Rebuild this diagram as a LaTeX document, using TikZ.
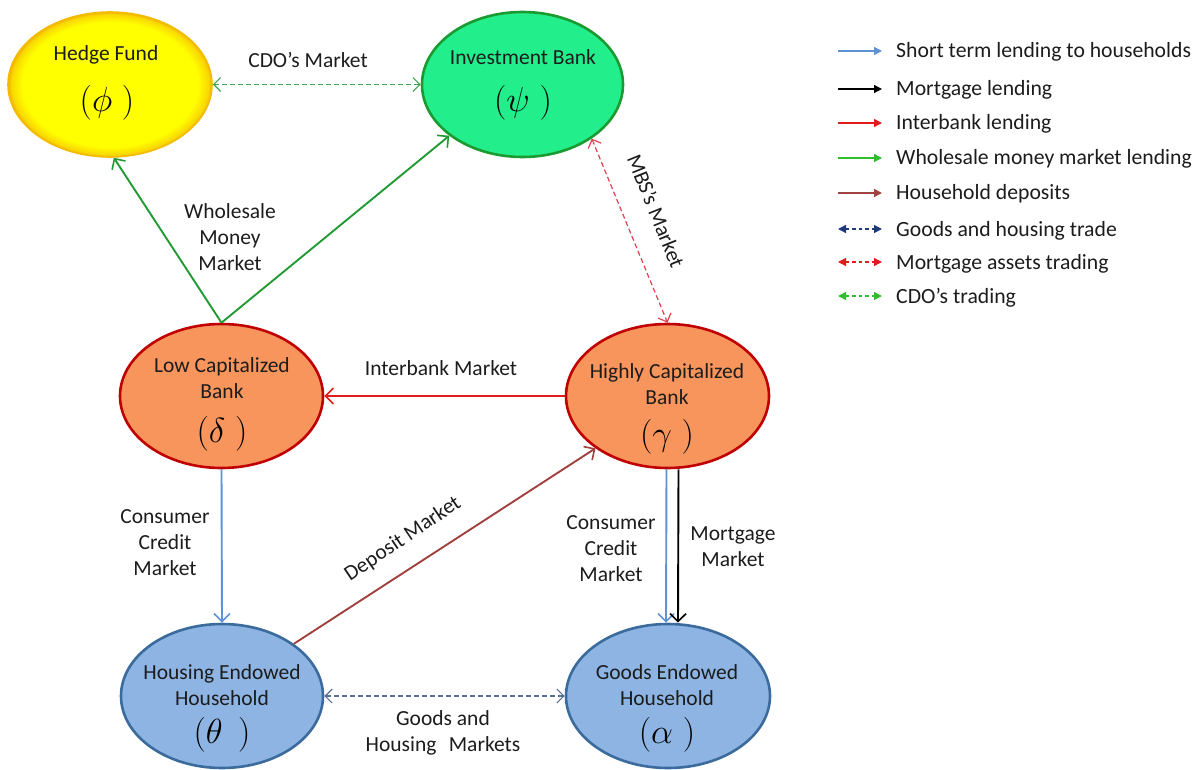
\documentclass[tikz,border=0pt]{standalone}
\usepackage{graphicx}
\usepackage{fontspec}
\setmainfont{Carlito}
\usetikzlibrary{shapes.geometric,arrows.meta}

% palette
\definecolor{txtc}{HTML}{1C1C1C}
\definecolor{hfyellow}{HTML}{FFFF00}
\definecolor{hforange}{HTML}{F2B000}
\definecolor{ibfill}{HTML}{22EE8C}
\definecolor{ibedge}{HTML}{1A9A30}
\definecolor{bankfill}{HTML}{F8955C}
\definecolor{bankedge}{HTML}{C00000}
\definecolor{hhfill}{HTML}{8DB4E2}
\definecolor{hhedge}{HTML}{3B6B9C}
\definecolor{cblue}{HTML}{5E91D6}
\definecolor{cred}{HTML}{E21C1C}
\definecolor{cgreen}{HTML}{229A33}
\definecolor{lgreen}{HTML}{2EBE2E}
\definecolor{cbrown}{HTML}{A0413F}
\definecolor{cnavy}{HTML}{1F3A7A}
\definecolor{cgrey}{HTML}{5A6F96}
\definecolor{mbsred}{HTML}{E0404F}
\definecolor{cdogreen}{HTML}{3FA552}

% soft orange rim for the hedge fund
\pgfdeclareradialshading{hedgeglow}{\pgfpoint{0bp}{0bp}}{%
  color(0bp)=(hfyellow); color(21.5bp)=(hfyellow);
  color(24.2bp)=(hforange!50!hfyellow); color(25bp)=(hforange);
  color(50bp)=(hforange)}

% large agent symbol
\newcommand{\agentsym}[1]{\scalebox{1.4}{$#1$}}

\begin{document}
\begin{tikzpicture}[x=1pt,y=-1pt,
  txt/.style={font=\fontsize{21.5}{26}\selectfont, text=txtc, align=center, inner sep=0pt},
  sym/.style={font=\fontsize{24.88}{25}\selectfont, text=black, inner sep=0pt},
  actor/.style={ellipse, inner sep=0pt, line width=2.6pt},
  flow/.style={line width=1.9pt, -{Straight Barb[length=8pt,width=16pt,line width=1.6pt]}},
  trade/.style={line width=1.2pt, dash pattern=on 5pt off 3pt,
    {Straight Barb[length=7pt,width=14pt,line width=1.2pt]}-{Straight Barb[length=7pt,width=14pt,line width=1.2pt]}},
  key/.style={line width=1.4pt, -{Triangle[length=8pt,width=8pt]}},
  keytrade/.style={line width=1.4pt, dash pattern=on 3.5pt off 3pt,
    {Triangle[length=8pt,width=8pt]}-{Triangle[length=8pt,width=8pt]}},
  keytxt/.style={font=\fontsize{21.7}{24}\selectfont, text=txtc, anchor=base west, inner sep=0pt}]
\useasboundingbox (0,0) rectangle (1204,770);

% ---------- agents ----------
\node[actor, shade, shading=hedgeglow, draw=hforange!85!hfyellow, line width=1.6pt,
      minimum width=204pt, minimum height=145pt] (hf) at (110,84.5) {};
\node[actor, fill=ibfill, draw=ibedge, minimum width=201pt, minimum height=145pt] (ib) at (522.5,84.5) {};
\node[actor, fill=bankfill, draw=bankedge, minimum width=203pt, minimum height=144pt] (lcb) at (221.5,396) {};
\node[actor, fill=bankfill, draw=bankedge, minimum width=203pt, minimum height=144pt] (hc) at (667.5,396) {};
\node[actor, fill=hhfill, draw=hhedge, minimum width=202pt, minimum height=144pt] (heh) at (222,696) {};
\node[actor, fill=hhfill, draw=hhedge, minimum width=204pt, minimum height=144pt] (geh) at (668,696) {};

% names and symbols
\node[txt] (hf-name) at (106,55) {Hedge Fund};
\node[sym] (hf-sym) at (107,103) {\agentsym{(\phi\;)}};
\node[txt] (ib-name) at (523,57) {Investment Bank};
\node[sym] (ib-sym) at (523,103) {\agentsym{(\psi\;)}};
\node[txt] (lcb-name) at (222,378) {Low Capitalized\\Bank};
\node[sym] (lcb-sym) at (222,434) {\agentsym{(\delta\;)}};
\node[txt] (hc-name) at (667,384) {Highly Capitalized\\Bank};
\node[sym] (hc-sym) at (667,437) {\agentsym{(\gamma\;)}};
\node[txt] (heh-name) at (222,685) {Housing Endowed\\Household};
\node[sym] (heh-sym) at (222,735) {\agentsym{(\theta\;\,)}};
\node[txt] (geh-name) at (667,685) {Goods Endowed\\Household};
\node[sym] (geh-sym) at (667,735) {\agentsym{(\alpha\;)}};

% ---------- markets ----------
\draw[trade, cdogreen] (hf.east) -- (ib.west);
\node[txt] (cdo-lbl) at (308,60) {CDO’s Market};

\draw[flow, cgreen] (lcb.north) -- (hf.-87);
\draw[flow, cgreen] (lcb.north) -- (ib.215);
\node[txt] (wmm-lbl) at (230,237.5) {Wholesale\\Money\\Market};

\draw[trade, mbsred] (ib.-38) -- (hc.north);
\node[txt, rotate=-68] (mbs-lbl) at (656,211) {MBS’s Market};

\draw[flow, cred] (hc.west) -- (lcb.east);
\node[txt] (ib-lbl) at (441,368) {Interbank Market};

\draw[flow, cblue] (lcb.south) -- (heh.north);
\node[txt] (ccl-lbl) at (165,543) {Consumer\\Credit\\Market};

\draw[flow, cbrown] (heh.36) -- (hc.216);
\node[txt, rotate=34] (dep-lbl) at (403,539) {Deposit Market};

\draw[flow, cblue] ([xshift=-1pt]hc.south) -- ([xshift=-2pt]geh.north);
\draw[flow, black] ([xshift=11pt]hc.south) -- ([xshift=10pt]geh.north);
\node[txt] (ccr-lbl) at (611,549) {Consumer\\Credit\\Market};
\node[txt] (mort-lbl) at (733,547) {Mortgage\\Market};

\draw[trade, cgrey] (heh.east) -- (geh.west);
\node[txt] (gh-lbl) at (443,733) {Goods and\\Housing\hspace{0.35em} Markets};

% ---------- key ----------
\foreach \i/\y/\c/\s/\t in {
  1/51/cblue/key/{Short term lending to households},
  2/89/black/key/{Mortgage lending},
  3/123/cred/key/{Interbank lending},
  4/158/lgreen/key/{Wholesale money market lending},
  5/193/cbrown/key/{Household deposits},
  6/229/cnavy/keytrade/{Goods and housing trade},
  7/262/cred/keytrade/{Mortgage assets trading},
  8/296/lgreen/keytrade/{CDO’s trading}} {
  \coordinate (key\i-a) at (838,\y);
  \coordinate (key\i-b) at (882,\y);
  \draw[\s, \c] (key\i-a) -- (key\i-b);
  \node[keytxt] (key\i-t) at (896,\y+7) {\t};
}
\end{tikzpicture}
\end{document}
